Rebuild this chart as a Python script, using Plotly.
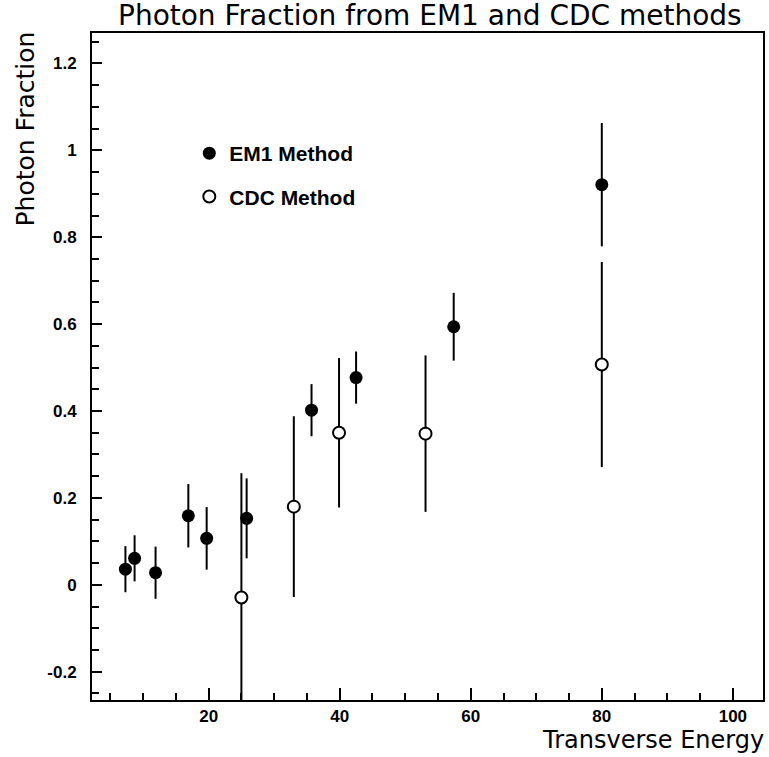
import plotly.graph_objects as go

# EM1 method (filled)
em1_x = [7.3, 8.7, 11.9, 16.9, 19.7, 25.8, 35.7, 42.5, 57.4, 80.0]
em1_y = [0.036, 0.061, 0.028, 0.159, 0.107, 0.153, 0.402, 0.477, 0.594, 0.921]
em1_err = [0.053, 0.053, 0.060, 0.073, 0.072, 0.092, 0.060, 0.060, 0.078, 0.142]

# CDC method (open)
cdc_x = [25.0, 33.0, 39.9, 53.1, 80.0]
cdc_y = [-0.029, 0.180, 0.350, 0.348, 0.507]
cdc_err = [0.286, 0.208, 0.172, 0.180, 0.236]

x_ticks = [20, 40, 60, 80, 100]
y_ticks = [-0.2, 0, 0.2, 0.4, 0.6, 0.8, 1.0, 1.2]
y_tick_text = ["-0.2", "0", "0.2", "0.4", "0.6", "0.8", "1", "1.2"]

FONT = "Liberation Sans"
TFONT = "DejaVu Sans"

fig = go.Figure()
fig.add_trace(go.Scatter(
    x=em1_x, y=em1_y, mode="markers", name="EM1 Method", legendgroup="a",
    marker=dict(symbol="circle", size=13, color="black", line=dict(width=0)),
    error_y=dict(type="data", array=em1_err, visible=True, thickness=2, width=0, color="black"),
))
fig.add_trace(go.Scatter(
    x=cdc_x, y=cdc_y, mode="markers", name="CDC Method", legendgroup="b",
    marker=dict(symbol="circle", size=12, color="white", line=dict(width=2, color="black")),
    error_y=dict(type="data", array=cdc_err, visible=True, thickness=2, width=0, color="black"),
))

fig.update_layout(
    width=769, height=757,
    margin=dict(l=92, r=4, t=33, b=57),
    paper_bgcolor="white", plot_bgcolor="white",
    showlegend=True,
    legend=dict(x=0.145, y=0.85, xanchor="left", yanchor="top",
                font=dict(family=FONT, size=21, color="black", weight="bold"),
                tracegroupgap=13, bgcolor="rgba(0,0,0,0)", itemsizing="trace"),
    font=dict(family=FONT, color="black"),
)
fig.update_xaxes(
    range=[2.2, 104.6], showgrid=False, zeroline=False,
    showline=True, linewidth=2, linecolor="black", mirror=True,
    ticks="inside", ticklen=12, tickwidth=2, tickcolor="black",
    tickvals=x_ticks, ticktext=[str(v) for v in x_ticks],
    tickfont=dict(family=FONT, size=17, color="black", weight="bold"),
    minor=dict(dtick=5, ticks="inside", ticklen=7, tickwidth=2, tickcolor="black", showgrid=False),
)
fig.update_yaxes(
    range=[-0.265, 1.27], showgrid=False, zeroline=False,
    showline=True, linewidth=2, linecolor="black", mirror=True,
    ticks="inside", ticklen=10, tickwidth=2, tickcolor="black",
    tickvals=y_ticks, ticktext=y_tick_text,
    tickfont=dict(family=FONT, size=17, color="black", weight="bold"),
    ticklabelstandoff=10,
    minor=dict(dtick=0.05, tick0=0, ticks="inside", ticklen=7, tickwidth=2, tickcolor="black", showgrid=False),
)

fig.add_annotation(text="Photon Fraction from EM1 and CDC methods", xref="paper", yref="paper",
                   x=0.503, y=1.0, xanchor="center", yanchor="bottom", yshift=-1, showarrow=False,
                   font=dict(family=TFONT, size=28, color="black"))
fig.add_annotation(text="Photon Fraction", xref="paper", yref="paper",
                   x=0, xshift=-67, y=1.0, yshift=3, yanchor="top", xanchor="center", textangle=-90,
                   showarrow=False, font=dict(family=TFONT, size=25, color="black"))
fig.add_annotation(text="Transverse Energy", xref="paper", yref="paper",
                   x=1.0, y=0, xshift=3, yshift=-24, xanchor="right", yanchor="top", showarrow=False,
                   font=dict(family=TFONT, size=24, color="black"))

fig.write_html("out.html")
